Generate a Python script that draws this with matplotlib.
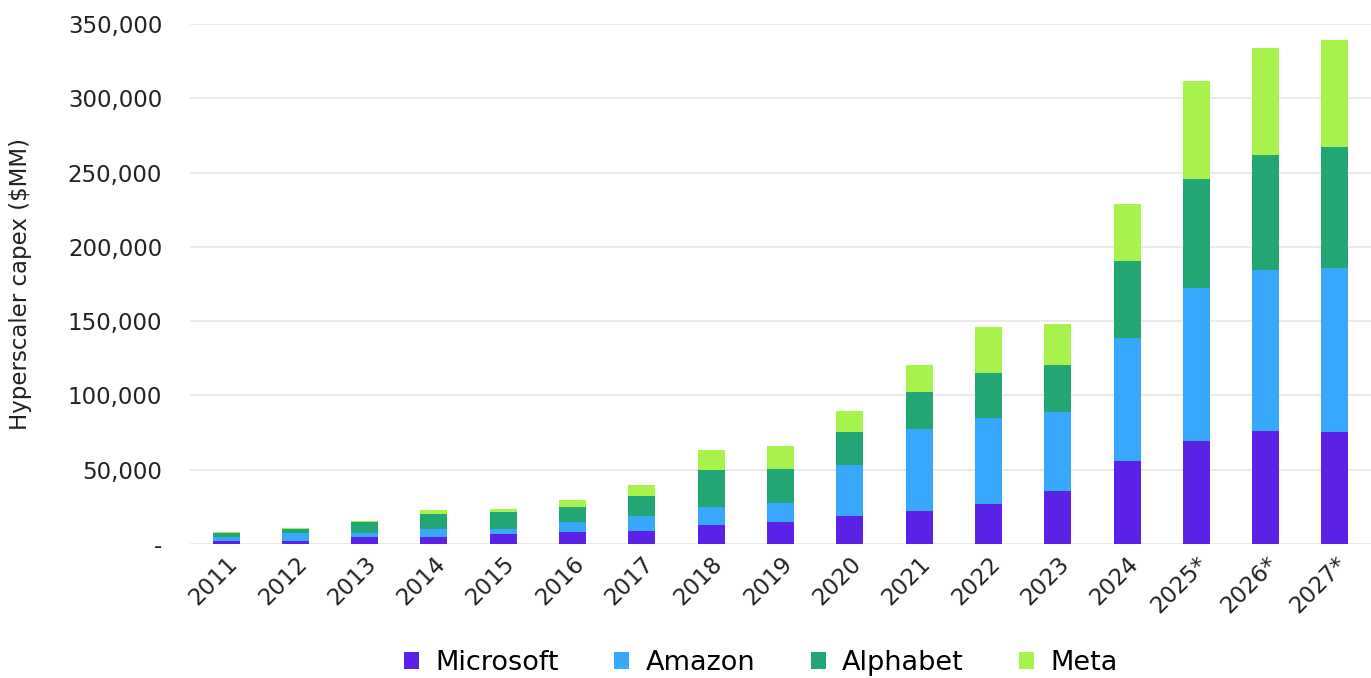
import matplotlib
matplotlib.use("Agg")
import matplotlib.pyplot as plt
import numpy as np
from matplotlib.patches import Patch

years = ["2011", "2012", "2013", "2014", "2015", "2016", "2017", "2018", "2019",
         "2020", "2021", "2022", "2023", "2024", "2025*", "2026*", "2027*"]
microsoft = [2300, 2300, 5000, 5000, 6800, 7900, 9000, 12900, 15100,
             18700, 22400, 26900, 35700, 55800, 69400, 75800, 75100]
amazon = [2200, 4900, 2200, 5100, 3300, 6700, 10100, 11800, 12500,
          34200, 54900, 57800, 53100, 83000, 102900, 108500, 110400]
alphabet = [2900, 2900, 7900, 10200, 11300, 10200, 12900, 24900, 23100,
            22400, 24900, 30400, 31400, 51900, 73500, 77400, 81500]
meta = [500, 500, 700, 2700, 2000, 4500, 8000, 14000, 15100,
        14500, 18000, 31300, 28200, 38000, 66000, 72200, 72000]

series = [("Microsoft", microsoft, "#5B21E6"),
          ("Amazon", amazon, "#37A8FB"),
          ("Alphabet", alphabet, "#22A673"),
          ("Meta", meta, "#A7F34B")]

plt.rcParams['font.family'] = ['DejaVu Sans']

fig = plt.figure(figsize=(13.71, 6.78), dpi=100)
ax = fig.add_axes([0.1386, 0.1976, 0.8614, 0.767])

x = np.arange(len(years))
bottom = np.zeros(len(years))
for name, vals, col in series:
    ax.bar(x, vals, width=0.39, bottom=bottom, color=col, label=name, zorder=3)
    bottom += np.array(vals)

ax.set_xlim(-0.52, len(years) - 0.48)
ax.set_ylim(0, 350000)
ax.set_yticks(np.arange(0, 350001, 50000))
ax.set_yticklabels(["-"] + [f"{v:,}" for v in range(50000, 350001, 50000)],
                   fontsize=16.5, color="#222222")
ax.yaxis.grid(True, color="#e8e8e8", linewidth=1.3, zorder=0)
ax.set_axisbelow(True)
for s in ax.spines.values():
    s.set_visible(False)
ax.tick_params(axis="y", length=0, pad=20)
ax.tick_params(axis="x", length=0, pad=6)
ax.set_xticks(x)
ax.set_xticklabels(years, rotation=45, ha="right", rotation_mode="anchor",
                   fontsize=16.5, color="#222222")
ax.set_ylabel("Hyperscaler capex ($MM)", fontsize=16.5, color="#222222", labelpad=26)

handles = [Patch(facecolor=c, label=n) for n, _, c in series]
fig.legend(handles=handles, loc="center", bbox_to_anchor=(0.555, 0.022),
           ncol=4, frameon=False, fontsize=19.5, handlelength=0.55,
           handleheight=0.55, columnspacing=2.05, handletextpad=0.6)

fig.savefig("out.png", dpi=100)
